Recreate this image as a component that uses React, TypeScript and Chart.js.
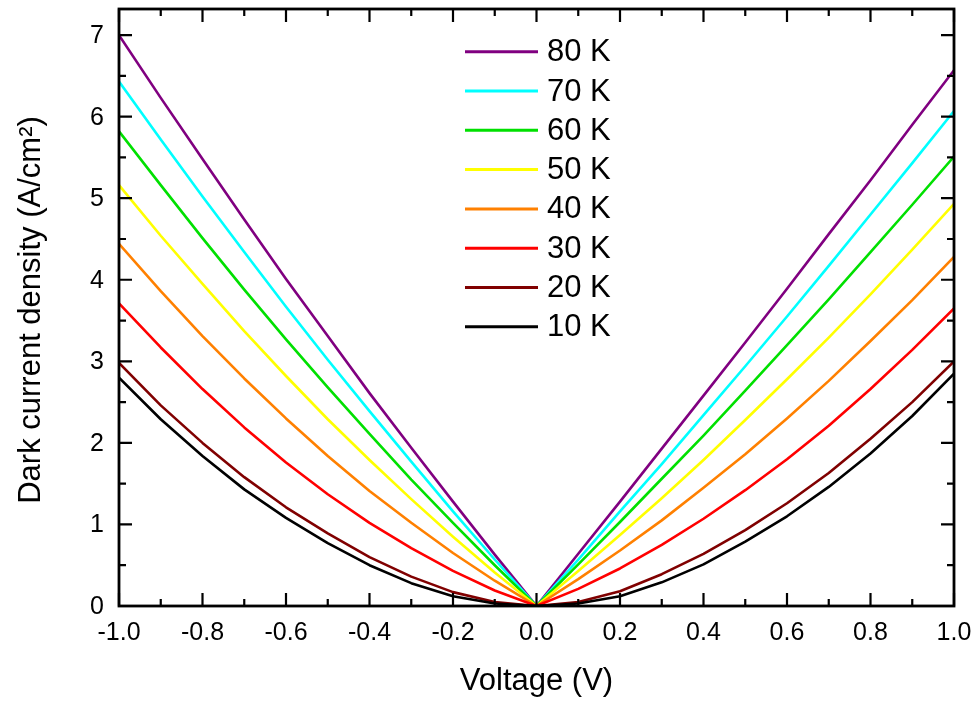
import React, { useEffect, useRef } from 'react';
import { Chart, registerables } from 'chart.js';

Chart.register(...registerables);

// Bias voltage (V)
const voltages = [-1.0, -0.9, -0.8, -0.7, -0.6, -0.5, -0.4, -0.3, -0.2, -0.1, 0.0, 0.1, 0.2, 0.3, 0.4, 0.5, 0.6, 0.7, 0.8, 0.9, 1.0];

// Dark current density (A/cm^2) per temperature
const j10K = [2.80, 2.29, 1.84, 1.43, 1.08, 0.77, 0.50, 0.28, 0.12, 0.03, 0.0, 0.03, 0.12, 0.29, 0.51, 0.79, 1.10, 1.46, 1.87, 2.33, 2.85];
const j20K = [2.98, 2.46, 2.00, 1.58, 1.21, 0.89, 0.60, 0.36, 0.17, 0.05, 0.0, 0.05, 0.18, 0.39, 0.64, 0.93, 1.26, 1.63, 2.05, 2.50, 3.00];
const j30K = [3.71, 3.17, 2.66, 2.19, 1.76, 1.37, 1.02, 0.71, 0.43, 0.19, 0.0, 0.21, 0.46, 0.75, 1.07, 1.42, 1.80, 2.21, 2.66, 3.14, 3.65];
const j40K = [4.44, 3.86, 3.31, 2.79, 2.30, 1.84, 1.41, 1.02, 0.65, 0.31, 0.0, 0.33, 0.68, 1.05, 1.45, 1.86, 2.30, 2.76, 3.25, 3.75, 4.28];
const j50K = [5.16, 4.54, 3.95, 3.37, 2.82, 2.29, 1.79, 1.31, 0.85, 0.41, 0.0, 0.43, 0.87, 1.32, 1.79, 2.28, 2.78, 3.29, 3.82, 4.37, 4.93];
const j60K = [5.82, 5.16, 4.51, 3.88, 3.27, 2.68, 2.11, 1.55, 1.02, 0.50, 0.0, 0.51, 1.03, 1.56, 2.09, 2.64, 3.20, 3.76, 4.34, 4.92, 5.51];
const j70K = [6.43, 5.72, 5.02, 4.34, 3.67, 3.02, 2.39, 1.77, 1.16, 0.57, 0.0, 0.57, 1.16, 1.74, 2.34, 2.94, 3.55, 4.17, 4.80, 5.43, 6.07];
const j80K = [7.00, 6.23, 5.48, 4.74, 4.01, 3.31, 2.61, 1.94, 1.28, 0.63, 0.0, 0.64, 1.28, 1.93, 2.58, 3.23, 3.89, 4.56, 5.22, 5.90, 6.57];

const seriesLabels = ['10 K', '20 K', '30 K', '40 K', '50 K', '60 K', '70 K', '80 K'];
const seriesValues = [j10K, j20K, j30K, j40K, j50K, j60K, j70K, j80K];
const seriesColors = ['#000000', '#800000', '#ff0000', '#ff8000', '#ffff00', '#00e000', '#00ffff', '#800080'];

// Axis ticks
const xMajorTicks = [-1.0, -0.8, -0.6, -0.4, -0.2, 0.0, 0.2, 0.4, 0.6, 0.8, 1.0];
const xTickLabels = ['-1.0', '-0.8', '-0.6', '-0.4', '-0.2', '0.0', '0.2', '0.4', '0.6', '0.8', '1.0'];
const yMajorTicks = [0, 1, 2, 3, 4, 5, 6, 7];
const yTickLabels = ['0', '1', '2', '3', '4', '5', '6', '7'];
const xMin = -1.0;
const xMax = 1.0;
const yMin = 0;
const yMax = 7.32;

const xTitle = 'Voltage (V)';
const yTitle = 'Dark current density (A/cm\u00B2)';

const FONT = '"Liberation Sans", Arial, sans-serif';

const midpoints = (arr: number[]) => arr.slice(0, -1).map((v, i) => (v + arr[i + 1]) / 2);

const frameAndLegendPlugin = {
  id: 'frameAndLegend',
  afterDatasetsDraw(chart: any) {
    const { ctx, chartArea: a, scales } = chart;
    const xs = scales.x;
    const ys = scales.y;
    const majorLen = 13;
    const minorLen = 7;
    ctx.save();
    ctx.strokeStyle = '#000';
    ctx.lineCap = 'butt';

    // ticks (inward, mirrored on all four sides)
    ctx.lineWidth = 2.2;
    ctx.beginPath();
    const xTick = (v: number, len: number) => {
      const px = xs.getPixelForValue(v);
      ctx.moveTo(px, a.bottom);
      ctx.lineTo(px, a.bottom - len);
      ctx.moveTo(px, a.top);
      ctx.lineTo(px, a.top + len);
    };
    const yTick = (v: number, len: number) => {
      const py = ys.getPixelForValue(v);
      ctx.moveTo(a.left, py);
      ctx.lineTo(a.left + len, py);
      ctx.moveTo(a.right, py);
      ctx.lineTo(a.right - len, py);
    };
    xMajorTicks.forEach((v) => xTick(v, majorLen));
    midpoints(xMajorTicks).forEach((v) => xTick(v, minorLen));
    yMajorTicks.forEach((v) => yTick(v, majorLen));
    midpoints([...yMajorTicks, 8]).forEach((v) => {
      if (v < yMax) yTick(v, minorLen);
    });
    ctx.stroke();

    // frame
    ctx.lineWidth = 2.8;
    ctx.strokeRect(a.left, a.top, a.right - a.left, a.bottom - a.top);

    // tick labels
    ctx.fillStyle = '#000';
    ctx.font = `25px ${FONT}`;
    ctx.textAlign = 'center';
    ctx.textBaseline = 'middle';
    xMajorTicks.forEach((v, i) => {
      ctx.fillText(xTickLabels[i], xs.getPixelForValue(v), a.bottom + 27);
    });
    ctx.textAlign = 'right';
    yMajorTicks.forEach((v, i) => {
      ctx.fillText(yTickLabels[i], a.left - 15, ys.getPixelForValue(v) + 1);
    });

    // axis titles
    ctx.font = `31px ${FONT}`;
    ctx.textAlign = 'center';
    ctx.textBaseline = 'alphabetic';
    ctx.fillText(xTitle, (a.left + a.right) / 2, a.bottom + 84);
    ctx.save();
    ctx.translate(40, 310);
    ctx.rotate(-Math.PI / 2);
    ctx.fillText(yTitle, 0, 0);
    ctx.restore();

    // legend (highest temperature at top)
    ctx.font = `31px ${FONT}`;
    ctx.textAlign = 'left';
    ctx.textBaseline = 'middle';
    const order = seriesLabels.map((_, i) => i).reverse();
    order.forEach((si, row) => {
      const y = 51.7 + row * 39.3;
      ctx.strokeStyle = seriesColors[si];
      ctx.lineWidth = 3;
      ctx.beginPath();
      ctx.moveTo(465, y);
      ctx.lineTo(538, y);
      ctx.stroke();
      ctx.fillStyle = '#000';
      ctx.fillText(seriesLabels[si], 547, y + 1);
    });
    ctx.restore();
  },
};

export default function App() {
  const canvasRef = useRef<HTMLCanvasElement | null>(null);

  useEffect(() => {
    const canvas = canvasRef.current;
    if (!canvas) return;
    const chart = new Chart(canvas, {
      type: 'line',
      data: {
        datasets: seriesValues.map((vals, i) => ({
          label: seriesLabels[i],
          data: voltages.map((v, k) => ({ x: v, y: vals[k] })),
          borderColor: seriesColors[i],
          backgroundColor: seriesColors[i],
          borderWidth: 2.6,
          pointRadius: 0,
          tension: 0,
          borderJoinStyle: 'round',
          fill: false,
        })),
      },
      options: {
        responsive: false,
        animation: false,
        devicePixelRatio: 1,
        layout: { padding: { left: 119, right: 25, top: 9, bottom: 100 } },
        scales: {
          x: { type: 'linear', min: xMin, max: xMax, display: false },
          y: { type: 'linear', min: yMin, max: yMax, display: false },
        },
        plugins: {
          legend: { display: false },
          tooltip: { enabled: false },
        },
      },
      plugins: [frameAndLegendPlugin],
    });
    return () => chart.destroy();
  }, []);

  return (
    <div style={{ position: 'absolute', left: 0, top: 0, width: 979, height: 706, background: '#fff' }}>
      <canvas ref={canvasRef} width={979} height={706} style={{ display: 'block' }} />
    </div>
  );
}
